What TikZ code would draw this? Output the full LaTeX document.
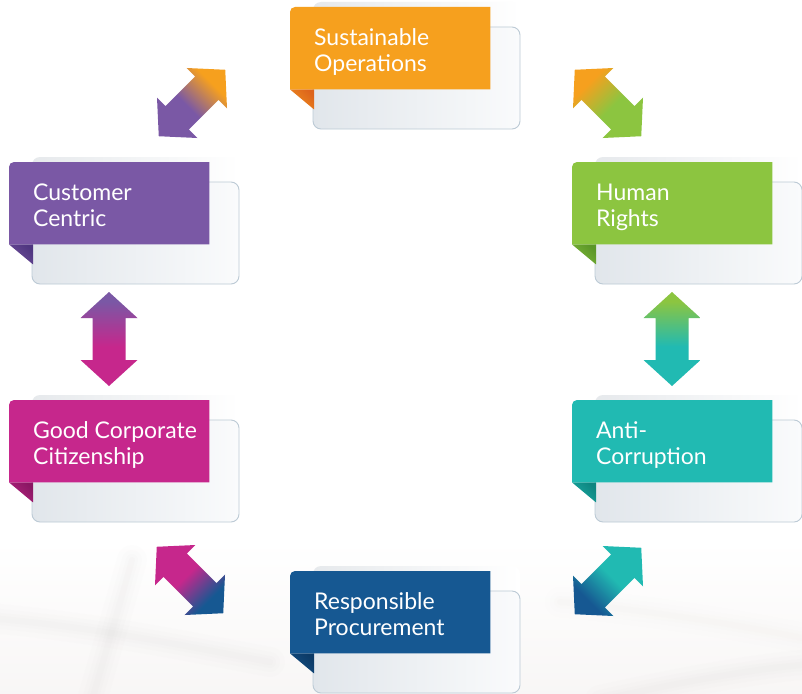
\documentclass[tikz,border=0pt]{standalone}
\usepackage{fontspec}
\setmainfont{Lato}
\usetikzlibrary{calc}

% palette
\definecolor{cOrange}{HTML}{F6A01E}
\definecolor{cOrangeD}{HTML}{DD641C}
\definecolor{cPurple}{HTML}{7A58A5}
\definecolor{cPurpleD}{HTML}{4F3680}
\definecolor{cGreen}{HTML}{8CC540}
\definecolor{cGreenD}{HTML}{5B9628}
\definecolor{cMagenta}{HTML}{C6278C}
\definecolor{cMagentaD}{HTML}{8A1763}
\definecolor{cTeal}{HTML}{21BAB2}
\definecolor{cTealD}{HTML}{0E8580}
\definecolor{cBlue}{HTML}{165892}
\definecolor{cBlueD}{HTML}{0C3A66}
\definecolor{cardL}{HTML}{E1E6EB}
\definecolor{cardM}{HTML}{E9EDF1}
\definecolor{cardR}{HTML}{FAFBFC}
\definecolor{cardEdge}{HTML}{BCCAD5}
\definecolor{backL}{HTML}{E6E9EC}
\definecolor{haze}{HTML}{B9B6B6}
\definecolor{hazeW}{HTML}{D9CFCB}

% arrow gradients: the dominant colour below, the other end colour on top
\newcommand\mkarrowshade[3]{%
  \pgfdeclareverticalshading{#1}{100bp}{color(0bp)=(#2); color(46bp)=(#2);
    color(70bp)=(#3); color(100bp)=(#3)}}
\mkarrowshade{shSC}{cPurple}{cOrange}
\mkarrowshade{shSH}{cGreen}{cOrange}
\mkarrowshade{shCG}{cMagenta}{cPurple}
\mkarrowshade{shHA}{cTeal}{cGreen}
\mkarrowshade{shGR}{cMagenta}{cBlue}
\mkarrowshade{shAR}{cTeal}{cBlue}

\tikzset{
  x=1pt, y=-1pt,
  labelbox/.style={rectangle, inner sep=0pt, minimum width=200pt,
    minimum height=82pt, anchor=north west},
  labeltext/.style={anchor=base west, inner sep=0pt, align=left,
    text=white, font=\fontsize{23}{26}\selectfont},
  backcard/.style={rounded corners=8pt, left color=backL, right color=white},
  frontcard/.style={rounded corners=8pt, draw=cardEdge, line width=0.9pt,
    left color=cardL, middle color=cardM, right color=cardR},
}

% a topic card: name, left, top, colour, fold colour, text
% (the text node sits on the baseline of its last line)
\newcommand\topiccard[6]{%
  \path[backcard] (#2+23,#3-5) rectangle (#2+230,#3+70);
  \path[frontcard] (#2+23,#3+20) rectangle (#2+230,#3+122);
  \node[labelbox] (#1) at (#2,#3) {};
  \path[shade, top color=#5, bottom color=#4!70!#5, shading angle=-45]
    (#1.south west) -- ++(24,0) -- ++(0,20) -- cycle;
  \fill[#4] (#1.south west) [rounded corners=5pt] -- (#1.north west)
    [sharp corners] -- (#1.north east) -- (#1.south east) -- cycle;
  \node[labeltext] (#1-t) at ($(#1.north west)+(24,64)$) {#6};
}

% a two-headed block arrow centred on a coordinate
\newcommand\linkarrow[4]{%
  \begin{scope}[shift={(#1)}, rotate=#2]
    \path[shade, shading=#3, shading angle=#4]
      (-47,0) -- (-21,28.5) -- (-21,16.5) -- (21,16.5) -- (21,28.5)
      -- (47,0) -- (21,-28.5) -- (21,-16.5) -- (-21,-16.5) -- (-21,-28.5)
      -- cycle;
  \end{scope}}

\begin{document}
\begin{tikzpicture}
\useasboundingbox (0,0) rectangle (802,693);
\fill[white] (0,0) rectangle (802,693);

% soft desk-photo streaks along the bottom
\begin{scope}
  \path[top color=white, bottom color=hazeW!18] (0,540) rectangle (802,693);
  \foreach \w/\o in {30/0.015, 20/0.02, 12/0.025, 6/0.03} {
    \draw[haze, line width=\w pt, opacity=\o, line cap=round]
      (-10,618) .. controls (100,628) and (180,645) .. (270,662);
    \draw[haze, line width=\w pt, opacity=\o, line cap=round]
      (132,560) .. controls (118,610) .. (92,700);
    \draw[hazeW, line width=\w pt, opacity=\o, line cap=round]
      (560,602) .. controls (660,612) and (740,625) .. (812,640);
    \draw[haze, line width=\w pt, opacity=\o, line cap=round]
      (600,700) .. controls (690,680) and (760,668) .. (812,664);
  }
\end{scope}

% cards
\topiccard{so}{290}{7}{cOrange}{cOrangeD}{Sustainable\\Operations}
\topiccard{cc}{9}{162}{cPurple}{cPurpleD}{Customer\\Centric}
\topiccard{hr}{572}{162}{cGreen}{cGreenD}{Human\\Rights}
\topiccard{gc}{9}{400}{cMagenta}{cMagentaD}{Good Corporate\\Citizenship}
\topiccard{ac}{572}{400}{cTeal}{cTealD}{Anti-\\Corruption}
\topiccard{rp}{290}{571}{cBlue}{cBlueD}{Responsible\\Procurement}

% links between neighbouring cards
\coordinate (so-cc) at (192,103);
\coordinate (so-hr) at (608,103);
\coordinate (cc-gc) at (109,339);
\coordinate (hr-ac) at (672,339);
\coordinate (gc-rp) at (190,580);
\coordinate (ac-rp) at (608,581);
\linkarrow{so-cc}{45}{shSC}{-45}
\linkarrow{so-hr}{-45}{shSH}{45}
\linkarrow{cc-gc}{90}{shCG}{0}
\linkarrow{hr-ac}{90}{shHA}{0}
\linkarrow{gc-rp}{-45}{shGR}{-135}
\linkarrow{ac-rp}{45}{shAR}{135}
\end{tikzpicture}
\end{document}
